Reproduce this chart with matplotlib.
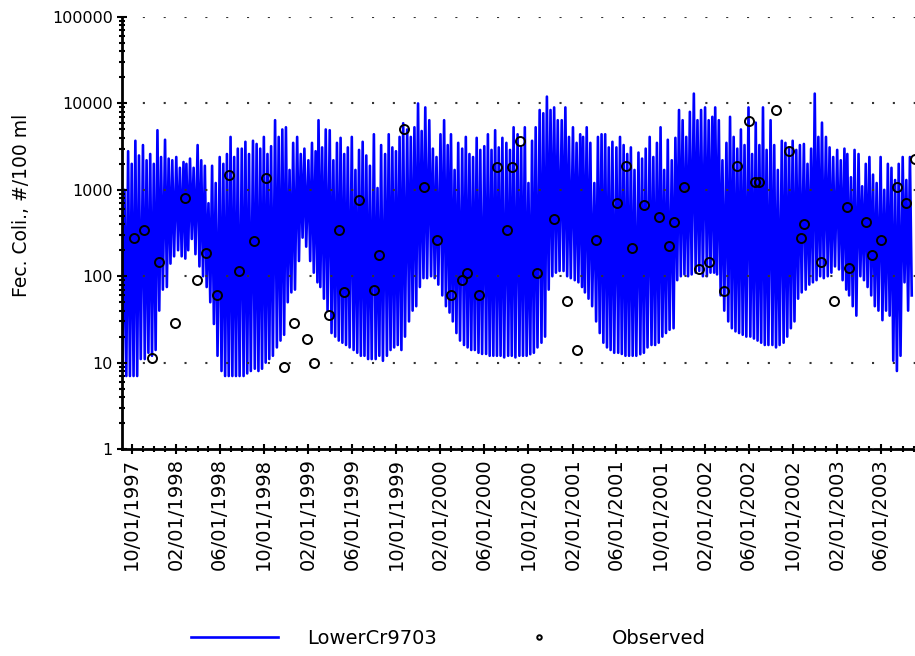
import pandas as pd
import matplotlib
matplotlib.use('Agg')
import matplotlib.pyplot as plt
import matplotlib.dates as mdates
from matplotlib.ticker import LogLocator, NullFormatter

# Simulated fecal coliform (LowerCr9703):
# three peaks and three troughs per month, starting Sep 1997
sim_start = '1997-09-01'
sim_high = [
    3000, 1000, 2800,  2000, 3700, 2500,  3300, 2200, 2600,  2000, 4900, 2400,
    3800, 2300, 2200,  2400, 1800, 2100,  2000, 2300, 1800,  3300, 2200, 1900,
    700, 1900, 1200,   2400, 2000, 2600,  4100, 2400, 3000,  3000, 3600, 2600,
    3700, 3400, 3000,  4100, 2600, 3200,  6400, 4100, 5000,  5300, 1700, 3500,
    4100, 2600, 3000,  2200, 3500, 2800,  6400, 3100, 5000,  4900, 2200, 3500,
    4000, 2600, 3100,  4100, 1700, 2900,  3600, 2500, 1900,  4400, 1050, 3300,
    2600, 4400, 3100,  2800, 4100, 5900,  5000, 4100, 5300,  10000, 4800, 9000,
    6400, 3000, 2400,  4400, 6400, 3300,  4400, 1700, 3500,  3000, 4100, 2600,
    2400, 4000, 2900,  3200, 4400, 2900,  4900, 3100, 4000,  3500, 2900, 5300,
    4400, 3100, 5300,  1200, 3700, 5300,  8400, 7700, 12000, 8400, 9000, 6400,
    6400, 9000, 4100,  5300, 3500, 4400,  4100, 5300, 3500,  1200, 4100, 4400,
    4400, 3100, 3600,  3100, 4100, 3300,  2600, 3100, 1700,  2700, 2300, 3000,
    4100, 2400, 3500,  5300, 1700, 3800,  2200, 4000, 8400,  6400, 4100, 8000,
    13000, 6400, 8400, 9000, 6400, 7000,  9000, 6400, 2200,  3500, 7000, 4100,
    3000, 5000, 3300,  9000, 2600, 6000,  3300, 9000, 2900,  6400, 3300, 1700,
    3700, 3500, 3100,  3700, 2900, 3300,  3400, 2000, 3000,  13000, 4100, 6000,
    4100, 3100, 2400,  2900, 2200, 3000,  2600, 1400, 2900,  2600, 1100, 2000,
    2400, 1500, 1200,  2400, 1000, 2000,  1800, 1300, 2000,  2400, 1300, 2400,
]
sim_low = [
    9, 7, 7,           7, 7, 11,          11, 13, 12,        14, 40, 70,
    75, 140, 170,      200, 170, 160,     200, 270, 180,     130, 100, 75,
    50, 28, 12,        8, 7, 7,           7, 7, 7,           7, 7.5, 8,
    8.5, 8, 8.5,       10, 11, 12,        15, 18, 21,        50, 65, 70,
    150, 280, 220,     150, 110, 85,      75, 55, 40,        22, 20, 18,
    17, 16, 15,        14, 13, 12,        12, 11, 11,        11, 12, 10.5,
    12, 14, 15,        16, 14, 20,        30, 40, 45,        75, 95, 95,
    100, 95, 80,       60, 45, 38,        30, 22, 18,        16, 15, 14,
    14, 13, 12.6,      12.6, 12, 12,      12, 12, 11.5,      12, 12, 11.5,
    12, 12, 12,        12.5, 13, 15,      17, 20, 70,        100, 110, 115,
    115, 100, 95,      90, 85, 75,        65, 55, 45,        30, 22, 17,
    15, 14, 13,        13, 12.6, 12,      12, 12, 12,        12.5, 13, 15,
    16, 16, 17,        20, 22, 24,        25, 90, 100,       105, 100, 105,
    110, 115, 100,     100, 110, 110,     105, 60, 40,       30, 25, 23,
    22, 21, 20,        20, 19, 18,        17, 16, 16,        16, 15, 16,
    17, 20, 25,        30, 55, 65,        70, 80, 85,        90, 100, 95,
    100, 110, 130,     120, 90, 70,       60, 45, 35,        100, 90, 75,
    60, 45, 40,        31, 40, 35,        10.5, 8, 12,       85, 40, 60,
]

# Observed samples
obs_dates = [
    '1997-10-06', '1997-11-03', '1997-11-25', '1997-12-15', '1998-01-28',
    '1998-02-24', '1998-03-30', '1998-04-23', '1998-05-24', '1998-06-26',
    '1998-07-24', '1998-09-03', '1998-10-06', '1998-11-25', '1998-12-23',
    '1999-01-28', '1999-02-16', '1999-03-30', '1999-04-26', '1999-05-10',
    '1999-06-20', '1999-08-01', '1999-08-15', '1999-10-23', '1999-12-17',
    '2000-01-22', '2000-03-01', '2000-03-31', '2000-04-14', '2000-05-17',
    '2000-07-06', '2000-08-02', '2000-08-16', '2000-09-07', '2000-10-24',
    '2000-12-10', '2001-01-15', '2001-02-12', '2001-04-05', '2001-06-02',
    '2001-06-27', '2001-07-14', '2001-08-16', '2001-09-27', '2001-10-24',
    '2001-11-07', '2001-12-05', '2002-01-15', '2002-02-12', '2002-03-25',
    '2002-04-30', '2002-06-02', '2002-06-19', '2002-06-30', '2002-08-16',
    '2002-09-21', '2002-10-24', '2002-11-01', '2002-12-18', '2003-01-23',
    '2003-02-28', '2003-03-06', '2003-04-22', '2003-05-08', '2003-06-02',
    '2003-07-16', '2003-08-10', '2003-09-04',
]
obs_vals = [
    280, 340, 11.4, 145, 29,
    810, 90, 187, 61, 1470,
    116, 255, 1380, 8.9, 29,
    18.6, 10, 36, 340, 65,
    770, 70, 175, 5000, 1070,
    265, 61, 90, 110, 61,
    1830, 340, 1830, 3700, 110,
    455, 52, 14, 265, 710,
    1900, 215, 660, 480, 225,
    420, 1070, 120, 145, 68,
    1900, 6300, 1220, 1220, 8300,
    2850, 280, 400, 145, 52,
    625, 125, 420, 175, 265,
    1070, 710, 2250,
]

y_ticks = [1, 10, 100, 1000, 10000, 100000]
y_ticklabels = ['1', '10', '100', '1000', '10000', '100000']

# zigzag the peaks and troughs through each month (days 1, 6, 11, ...)
months = pd.date_range(sim_start, periods=len(sim_high) // 3, freq='MS')
sim_dates = []
sim_vals = []
for m, month in enumerate(months):
    for k in range(3):
        sim_dates.append(month + pd.Timedelta(days=10 * k))
        sim_vals.append(sim_high[3 * m + k])
        sim_dates.append(month + pd.Timedelta(days=10 * k + 5))
        sim_vals.append(sim_low[3 * m + k])

fig = plt.figure(figsize=(9.15, 6.56), dpi=100)
ax = fig.add_axes([0.1333, 0.3155, 0.8667, 0.6585])

ax.plot(sim_dates, sim_vals, color='#0000ff', lw=1.9, label='LowerCr9703', zorder=2)
ax.plot(pd.to_datetime(obs_dates), obs_vals, 'o', ms=6.5, mfc='none', mec='black',
        mew=1.4, label='Observed', zorder=4)

ax.set_yscale('log')
ax.set_ylim(1, 100000)
ax.set_xlim(pd.Timestamp('1997-09-04'), pd.Timestamp('2003-09-04'))

ax.set_yticks(y_ticks)
ax.set_yticklabels(y_ticklabels)
ax.yaxis.set_minor_locator(LogLocator(base=10, subs=range(2, 10)))
ax.yaxis.set_minor_formatter(NullFormatter())

ax.xaxis.set_major_locator(mdates.MonthLocator(bymonth=[2, 6, 10]))
ax.xaxis.set_minor_locator(mdates.MonthLocator())
ax.xaxis.set_major_formatter(mdates.DateFormatter('%m/%d/%Y'))
plt.setp(ax.get_xticklabels(), rotation=90)

ax.tick_params(axis='both', which='both', direction='inout', width=1.5, color='black')
ax.tick_params(axis='both', which='major', length=7)
ax.tick_params(axis='both', which='minor', length=5)
ax.tick_params(axis='x', labelsize=14, pad=3)
ax.tick_params(axis='y', labelsize=11.5, pad=3)

for side in ('top', 'right'):
    ax.spines[side].set_visible(False)
for side in ('left', 'bottom'):
    ax.spines[side].set_linewidth(2)

ax.set_axisbelow(False)
ax.yaxis.grid(True, which='major', linestyle=(0, (1, 9)), color='#333333', lw=1.5, zorder=3)

ax.set_ylabel('Fec. Coli., #/100 ml', fontsize=13.5)
ax.yaxis.set_label_coords(-0.115, 0.565)

fig.legend(loc='center', bbox_to_anchor=(0.49, 0.027), ncol=2, frameon=False,
           fontsize=14, handlelength=4.5, handletextpad=1.5, columnspacing=3,
           markerscale=0.5)

fig.savefig('out.png', dpi=100)
